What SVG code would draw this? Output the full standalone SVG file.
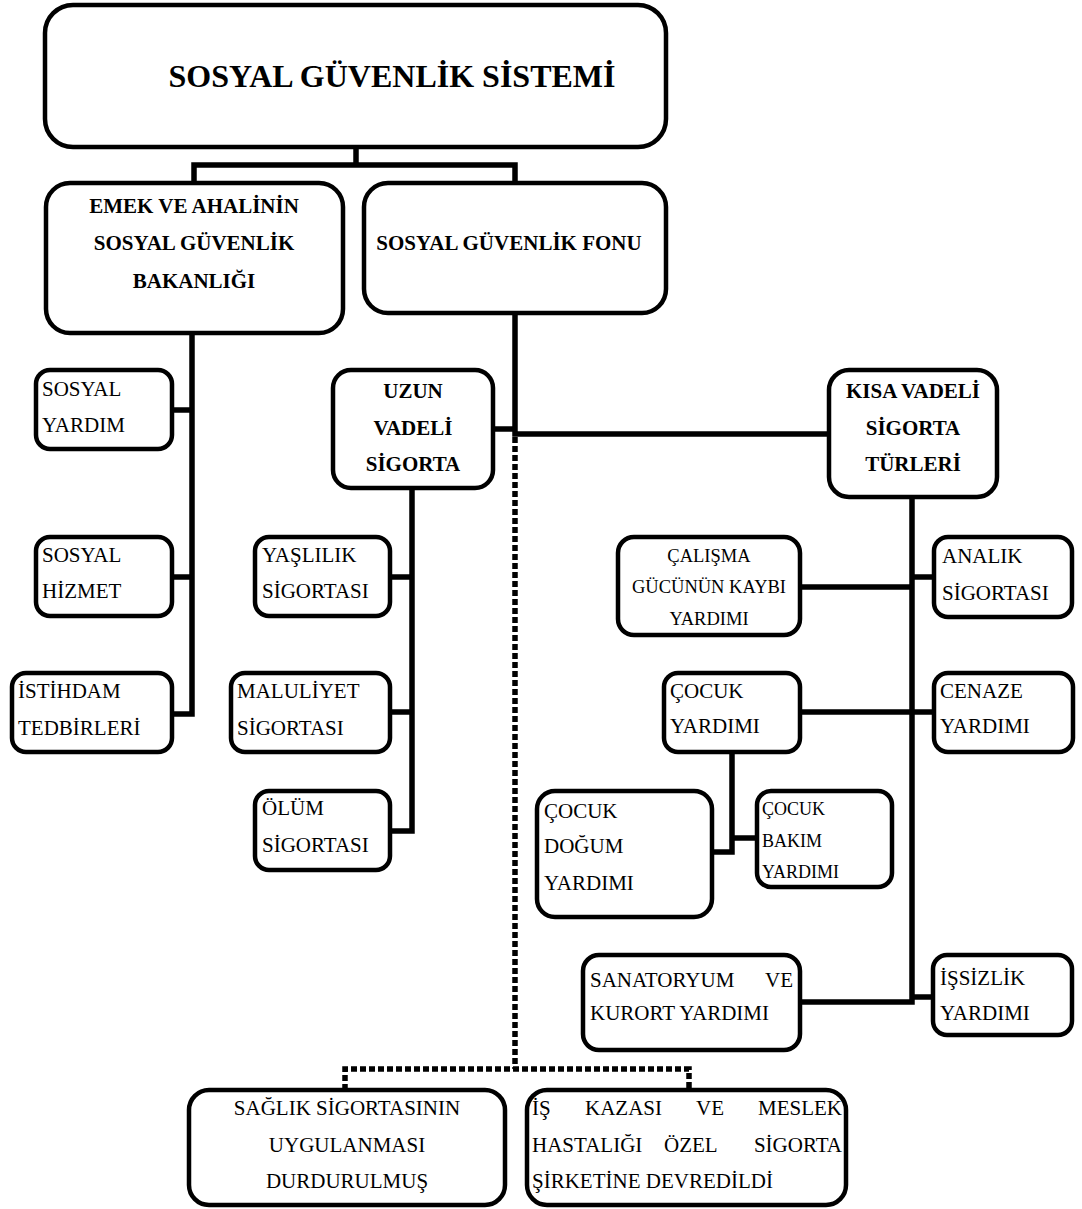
<svg xmlns="http://www.w3.org/2000/svg" width="1082" height="1209" viewBox="0 0 1082 1209">
<style>
.box{fill:#fff;stroke:#000;stroke-width:4.5}
.ln{fill:none;stroke:#000;stroke-width:5.5}
.dot{fill:none;stroke:#000;stroke-width:5.5;stroke-dasharray:6 3}
.t{font-family:"Liberation Serif","Times New Roman",serif;font-size:21px;fill:#000}
.b{font-weight:bold}
.c{text-anchor:middle}
.e{text-anchor:end}
.s{font-size:18.5px}
</style>
<rect width="1082" height="1209" fill="#fff"/>
<g id="connectors">
<path class="ln" d="M356,147V165M194,183V165H515V183"/>
<path class="ln" d="M192,333V714H172M172,577H192M172,410H192"/>
<path class="ln" d="M515,313V434H829M493,429H515"/>
<path class="ln" d="M412,488V831H390M390,577H412M390,712H412"/>
<path class="ln" d="M912,497V1002H800M800,587H912M934,577H912M800,712H934M912,997H933"/>
<path class="ln" d="M732,752V852H712M732,838H757"/>
<path class="dot" d="M515,437V1069"/>
<path class="dot" d="M345,1090V1069H689V1090"/>
</g>
<g id="n-root"><rect class="box" x="45" y="5" width="621" height="142" rx="28"/><text class="t b c" x="392" y="87" style="font-size:32px">SOSYAL GÜVENLİK SİSTEMİ</text></g>
<g id="n-emek"><rect class="box" x="46" y="183" width="297" height="150" rx="24"/><text class="t b c" x="194" y="213">EMEK VE AHALİNİN</text><text class="t b c" x="194" y="250">SOSYAL GÜVENLİK</text><text class="t b c" x="194" y="288">BAKANLIĞI</text></g>
<g id="n-fonu"><rect class="box" x="364" y="183" width="302" height="130" rx="24"/><text class="t b c" x="509" y="250">SOSYAL GÜVENLİK FONU</text></g>
<g id="n-sy"><rect class="box" x="36" y="370" width="136" height="79" rx="14"/><text class="t" x="42" y="396">SOSYAL</text><text class="t" x="42" y="432">YARDIM</text></g>
<g id="n-sh"><rect class="box" x="36" y="537" width="136" height="79" rx="14"/><text class="t" x="42" y="562">SOSYAL</text><text class="t" x="42" y="598">HİZMET</text></g>
<g id="n-ist"><rect class="box" x="12" y="673" width="160" height="79" rx="14"/><text class="t" x="18" y="698">İSTİHDAM</text><text class="t" x="18" y="735">TEDBİRLERİ</text></g>
<g id="n-uzun"><rect class="box" x="333" y="370" width="160" height="118" rx="18"/><text class="t b c" x="413" y="398">UZUN</text><text class="t b c" x="413" y="435">VADELİ</text><text class="t b c" x="413" y="471">SİGORTA</text></g>
<g id="n-yas"><rect class="box" x="255" y="537" width="135" height="79" rx="14"/><text class="t" x="262" y="562">YAŞLILIK</text><text class="t" x="262" y="598">SİGORTASI</text></g>
<g id="n-mal"><rect class="box" x="231" y="673" width="159" height="79" rx="14"/><text class="t" x="237" y="698">MALULİYET</text><text class="t" x="237" y="735">SİGORTASI</text></g>
<g id="n-olum"><rect class="box" x="255" y="791" width="135" height="79" rx="14"/><text class="t" x="262" y="815">ÖLÜM</text><text class="t" x="262" y="852">SİGORTASI</text></g>
<g id="n-kisa"><rect class="box" x="829" y="370" width="168" height="127" rx="20"/><text class="t b c" x="913" y="398">KISA VADELİ</text><text class="t b c" x="913" y="435">SİGORTA</text><text class="t b c" x="913" y="471">TÜRLERİ</text></g>
<g id="n-calisma"><rect class="box" x="618" y="537" width="182" height="98" rx="16"/><text class="t s c" x="709" y="562">ÇALIŞMA</text><text class="t s c" x="709" y="593">GÜCÜNÜN KAYBI</text><text class="t s c" x="709" y="625">YARDIMI</text></g>
<g id="n-analik"><rect class="box" x="934" y="537" width="138" height="80" rx="14"/><text class="t" x="942" y="563">ANALIK</text><text class="t" x="942" y="600">SİGORTASI</text></g>
<g id="n-cocuk"><rect class="box" x="664" y="673" width="136" height="79" rx="14"/><text class="t" x="670" y="698">ÇOCUK</text><text class="t" x="670" y="733">YARDIMI</text></g>
<g id="n-cenaze"><rect class="box" x="934" y="673" width="139" height="79" rx="14"/><text class="t" x="940" y="698">CENAZE</text><text class="t" x="940" y="733">YARDIMI</text></g>
<g id="n-dogum"><rect class="box" x="537" y="791" width="175" height="126" rx="18"/><text class="t" x="544" y="818">ÇOCUK</text><text class="t" x="544" y="853">DOĞUM</text><text class="t" x="544" y="890">YARDIMI</text></g>
<g id="n-bakim"><rect class="box" x="757" y="791" width="135" height="96" rx="14"/><text class="t" x="762" y="815" style="font-size:18px">ÇOCUK</text><text class="t" x="762" y="847" style="font-size:18px">BAKIM</text><text class="t" x="762" y="878" style="font-size:18px">YARDIMI</text></g>
<g id="n-sana"><rect class="box" x="583" y="955" width="217" height="95" rx="16"/><text class="t" x="590" y="987">SANATORYUM</text><text class="t e" x="793" y="987">VE</text><text class="t" x="590" y="1020">KURORT YARDIMI</text></g>
<g id="n-issiz"><rect class="box" x="933" y="955" width="139" height="80" rx="14"/><text class="t" x="940" y="985">İŞSİZLİK</text><text class="t" x="940" y="1020">YARDIMI</text></g>
<g id="n-saglik"><rect class="box" x="189" y="1090" width="316" height="115" rx="20"/><text class="t c" x="347" y="1115">SAĞLIK SİGORTASININ</text><text class="t c" x="347" y="1152">UYGULANMASI</text><text class="t c" x="347" y="1188">DURDURULMUŞ</text></g>
<g id="n-is"><rect class="box" x="527" y="1090" width="319" height="115" rx="20"/>
<text class="t" x="532" y="1115">İŞ</text><text class="t" x="585" y="1115">KAZASI</text><text class="t" x="696" y="1115">VE</text><text class="t e" x="842" y="1115">MESLEK</text>
<text class="t" x="532" y="1152">HASTALIĞI</text><text class="t" x="664" y="1152">ÖZEL</text><text class="t e" x="842" y="1152">SİGORTA</text>
<text class="t" x="532" y="1188">ŞİRKETİNE DEVREDİLDİ</text></g>
</svg>
